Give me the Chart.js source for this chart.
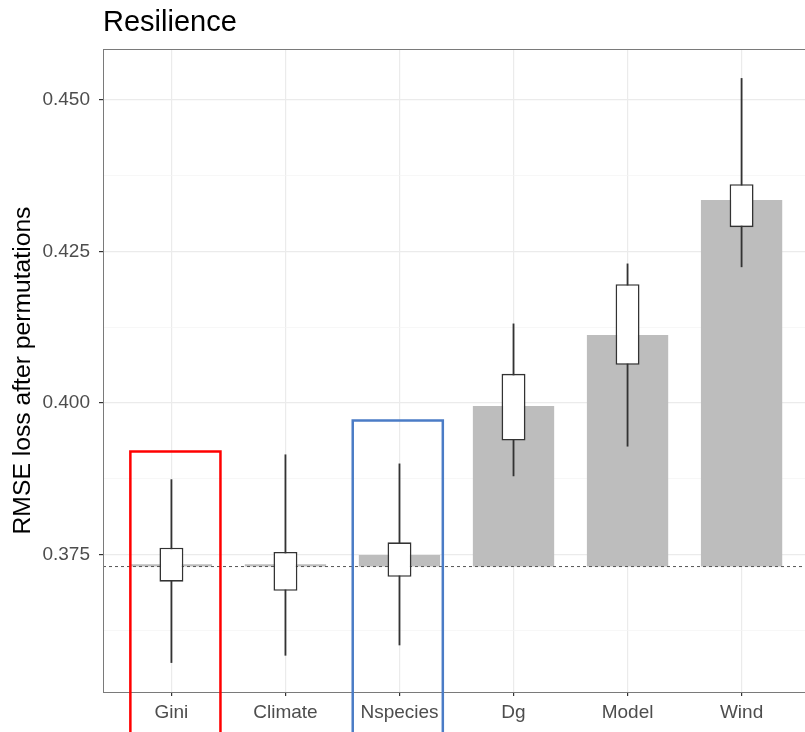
<!DOCTYPE html>
<html>
<head>
<meta charset="utf-8">
<script src="https://cdn.jsdelivr.net/npm/chart.js@4.4.0/dist/chart.umd.min.js"></script>
<style>
  html, body { margin: 0; padding: 0; background: #fff; overflow: hidden; }
  #wrap { width: 812px; height: 732px; }
</style>
</head>
<body>
<div id="wrap"><canvas id="chart" width="812" height="732"></canvas></div>
<script>
// Data
const categories = ['Gini', 'Climate', 'Nspecies', 'Dg', 'Model', 'Wind'];
const baseline = 0.373;
const barTop = [0.3734, 0.3734, 0.3749, 0.3995, 0.4112, 0.4335];
const whiskerLow = [0.3571, 0.3583, 0.3600, 0.3879, 0.3928, 0.4224];
const boxLow = [0.3705, 0.3690, 0.3713, 0.3938, 0.4063, 0.4290];
const boxHigh = [0.3761, 0.3754, 0.3770, 0.4048, 0.4196, 0.4361];
const whiskerHigh = [0.3874, 0.3915, 0.3900, 0.4131, 0.4230, 0.4536];
const yMajorTicks = [0.375, 0.400, 0.425, 0.450];
const yMinorTicks = [0.3625, 0.3875, 0.4125, 0.4375];

// Highlight boxes drawn over the picture
const highlightCats = ['Gini', 'Nspecies'];
const highlightTop = [0.3920, 0.3971];
const highlightLeft = [-0.36, -0.41];
const highlightRight = [0.43, 0.38];
const highlightColors = ['#ff0000', '#4b7cc6'];

const FONT = '"Liberation Sans", Arial, Helvetica, sans-serif';

const isMajor = v => yMajorTicks.some(m => Math.abs(m - v) < 1e-9);

const panelPlugin = {
    id: 'panel',
    afterDatasetsDraw(chart) {
        const { ctx, chartArea: a } = chart;
        ctx.save();
        ctx.strokeStyle = '#7a7a7a';
        ctx.lineWidth = 1;
        ctx.strokeRect(a.left + 0.5, a.top + 0.5, a.right - a.left, a.bottom - a.top);
        ctx.restore();
    },
    afterDraw(chart) {
        const { ctx, chartArea: a, scales: { x, y } } = chart;
        ctx.save();
        // title
        ctx.fillStyle = '#000';
        ctx.font = '29px ' + FONT;
        ctx.textBaseline = 'alphabetic';
        ctx.textAlign = 'left';
        ctx.fillText('Resilience', a.left, 31);
        // highlight rectangles
        ctx.lineWidth = 2.5;
        highlightCats.forEach((c, i) => {
            const pos = categories.indexOf(c) + 1;
            const l = x.getPixelForValue(pos + highlightLeft[i]);
            const r = x.getPixelForValue(pos + highlightRight[i]);
            const t = y.getPixelForValue(highlightTop[i]);
            const b = chart.height + 10;
            ctx.strokeStyle = highlightColors[i];
            ctx.beginPath();
            ctx.moveTo(l, b);
            ctx.lineTo(l, t);
            ctx.lineTo(r, t);
            ctx.lineTo(r, b);
            ctx.stroke();
        });
        ctx.restore();
    }
};

new Chart(document.getElementById('chart'), {
    type: 'bar',
    data: {
        datasets: [
            {
                label: 'box',
                data: categories.map((c, i) => ({ x: i + 1, y: [boxLow[i], boxHigh[i]] })),
                backgroundColor: '#ffffff',
                borderColor: '#333333',
                borderWidth: 1.6,
                borderSkipped: false,
                barPercentage: 0.21,
                categoryPercentage: 1,
                grouped: false,
                order: 1
            },
            {
                label: 'whisker',
                data: categories.map((c, i) => ({ x: i + 1, y: [whiskerLow[i], whiskerHigh[i]] })),
                backgroundColor: '#333333',
                borderWidth: 0,
                barPercentage: 0.016,
                categoryPercentage: 1,
                grouped: false,
                order: 2
            },
            {
                type: 'line',
                label: 'baseline',
                data: [{ x: 0.4, y: baseline }, { x: 6.6, y: baseline }],
                borderColor: '#555555',
                borderWidth: 1,
                borderDash: [3, 3],
                pointRadius: 0,
                order: 3
            },
            {
                label: 'loss',
                data: categories.map((c, i) => ({ x: i + 1, y: [baseline, barTop[i]] })),
                backgroundColor: '#bdbdbd',
                borderWidth: 0,
                barPercentage: 0.713,
                categoryPercentage: 1,
                grouped: false,
                order: 4
            }
        ]
    },
    options: {
        responsive: false,
        animation: false,
        layout: { padding: { top: 49, left: 0, right: 2, bottom: 0 } },
        plugins: { legend: { display: false }, tooltip: { enabled: false } },
        scales: {
            x: {
                type: 'linear',
                min: 0.4,
                max: 6.6,
                offset: false,
                afterBuildTicks: s => { s.ticks = categories.map((c, i) => ({ value: i + 1 })); },
                afterFit: s => { s.height = 40; },
                ticks: {
                    callback: (v, i) => categories[i],
                    color: '#4d4d4d',
                    font: { family: FONT, size: 19 },
                    padding: 5,
                    maxRotation: 0
                },
                grid: { offset: false, color: '#ebebeb', lineWidth: 1.2, tickColor: '#333333', tickLength: 4 },
                border: { display: false }
            },
            y: {
                min: 0.3523,
                max: 0.4584,
                afterBuildTicks: s => {
                    s.ticks = yMinorTicks.concat(yMajorTicks).sort((a, b) => a - b).map(v => ({ value: v }));
                },
                afterFit: s => { s.width = 103; },
                ticks: {
                    callback: v => isMajor(v) ? v.toFixed(3) : '',
                    color: '#4d4d4d',
                    font: { family: FONT, size: 19 },
                    padding: 9
                },
                grid: {
                    color: c => isMajor(c.tick.value) ? '#ebebeb' : '#f4f4f4',
                    lineWidth: c => isMajor(c.tick.value) ? 1.2 : 0.7,
                    tickColor: c => isMajor(c.tick.value) ? '#333333' : 'rgba(0,0,0,0)',
                    tickLength: 4
                },
                border: { display: false },
                title: {
                    display: true,
                    text: 'RMSE loss after permutations',
                    color: '#000',
                    font: { family: FONT, size: 24.7 },
                    padding: { top: 8, bottom: 0 }
                }
            }
        }
    },
    plugins: [panelPlugin]
});
</script>
</body>
</html>
